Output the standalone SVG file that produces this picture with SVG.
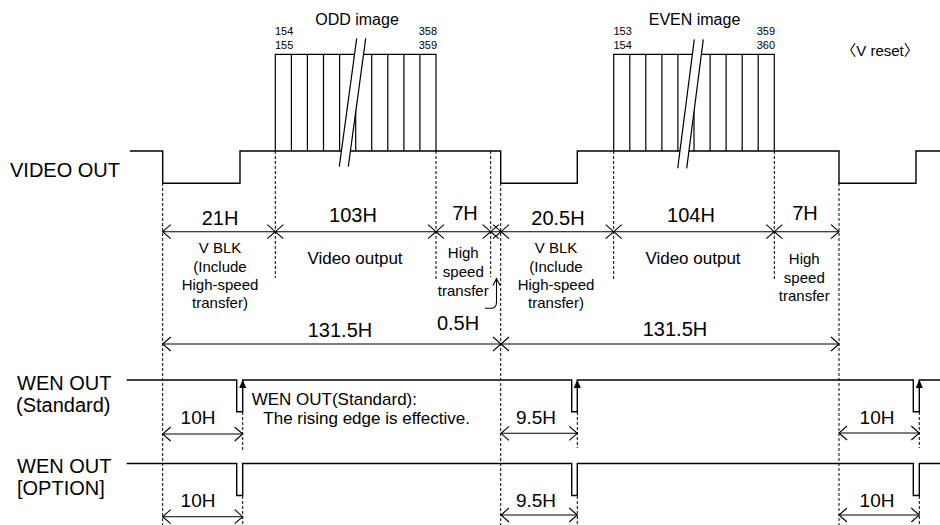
<svg xmlns="http://www.w3.org/2000/svg" xmlns:xlink="http://www.w3.org/1999/xlink" width="940" height="525" viewBox="0 0 940 525">
<defs>
<style>
text{font-family:"Liberation Sans",Arial,"Noto Sans CJK JP",sans-serif;fill:#000}
.sig{fill:none;stroke:#000;stroke-width:1.4}
.blk{fill:none;stroke:#000;stroke-width:1.2}
.dash{fill:none;stroke:#000;stroke-width:1;stroke-dasharray:3,2}
.dim{fill:none;stroke:#000;stroke-width:1.1}
.l20{font-size:20px}
.l19{font-size:19px}
.l17{font-size:17px}
.l16{font-size:16px}
.l15{font-size:15px}
.l11{font-size:11px}
.m{text-anchor:middle}
.e{text-anchor:end}
</style>
<path id="aL" d="M8,-7 L0,0 L8,7" class="dim"/>
<path id="aR" d="M-8,-7 L0,0 L-8,7" class="dim"/>
<path id="aX" d="M8,-7 L0,0 L8,7 M-8,-7 L0,0 L-8,7" class="dim"/>
<path id="tri" d="M-3.5,8 L0,-0.5 L3.5,8 Z" fill="#000"/>
</defs>
<rect width="940" height="525" fill="#fff"/>

<g id="labels">
<text class="l20" x="10" y="177">VIDEO OUT</text>
<text class="l20" x="17" y="390">WEN OUT</text>
<text class="l20" x="16" y="412">(Standard)</text>
<text class="l20" x="17" y="473">WEN OUT</text>
<text class="l20" x="17" y="495">[OPTION]</text>
</g>

<g id="video-out">
<path class="sig" d="M130,151 H162.7 V183.3 H240 V151 H500.7 V183.3 H577.3 V151 H839 V183.3 H916 V151 H940"/>
</g>

<g id="odd-image">
<path class="blk" d="M275.3,151 V54.3 H436 V151 M291.4,54.3 V151 M307.4,54.3 V151 M323.5,54.3 V151 M339.6,54.3 V151 M355.7,54.3 V151 M371.7,54.3 V151 M387.8,54.3 V151 M403.9,54.3 V151 M419.9,54.3 V151"/>
<polygon points="356.7,38.3 365.7,38.3 348.3,166.7 339.3,166.7" fill="#fff"/>
<path class="blk" d="M356.7,38.3 L339.3,166.7 M365.7,38.3 L348.3,166.7"/>
<text class="l16 m" x="357" y="24.5">ODD image</text>
<text class="l11" x="275" y="35">154</text>
<text class="l11" x="275" y="49">155</text>
<text class="l11 e" x="437" y="35">358</text>
<text class="l11 e" x="437" y="49">359</text>
</g>

<g id="even-image">
<path class="blk" d="M613.7,151 V54.3 H774.3 V151 M629.8,54.3 V151 M645.8,54.3 V151 M661.9,54.3 V151 M677.9,54.3 V151 M694,54.3 V151 M710.1,54.3 V151 M726.1,54.3 V151 M742.2,54.3 V151 M758.2,54.3 V151"/>
<polygon points="694.3,39.3 703.3,39.3 686.7,168.3 677.7,168.3" fill="#fff"/>
<path class="blk" d="M694.3,39.3 L677.7,168.3 M703.3,39.3 L686.7,168.3"/>
<text class="l16 m" x="694.5" y="25">EVEN image</text>
<text class="l11" x="613.5" y="35">153</text>
<text class="l11" x="613.5" y="49">154</text>
<text class="l11 e" x="775" y="35">359</text>
<text class="l11 e" x="775" y="49">360</text>
</g>

<g id="v-reset">
<text class="l15 m" x="880" y="56">〈V reset〉</text>
</g>

<g id="wen-standard">
<path class="sig" d="M126.7,380 H236.7 V411.7 H242.7 V380 H571.7 V411.7 H577.3 V380 H913.3 V411.7 H919.3 V380 H940"/>
<use xlink:href="#tri" x="242.7" y="380"/>
<use xlink:href="#tri" x="577.3" y="380"/>
<use xlink:href="#tri" x="919.3" y="380"/>
<text class="l17" x="251.7" y="405">WEN OUT(Standard):</text>
<text class="l17" x="263.3" y="424">The rising edge is effective.</text>
</g>

<g id="wen-option">
<path class="sig" d="M126.7,463.5 H236.7 V495.5 H242.7 V463.5 H571.7 V495.5 H577.3 V463.5 H913.3 V495.5 H919.3 V463.5 H940"/>
</g>

<g id="connectors">
<path class="dash" d="M162.7,183 V525 M275.3,151 V278 M436,151 V280 M490.7,151 V277 M500.7,183 V525 M613.7,151 V279 M774.3,151 V280 M839,183 V525 M242.7,412 V452 M242.7,496 V525 M577.3,412 V448 M577.3,496 V525 M919.3,412 V448 M919.3,496 V525"/>
<path class="dim" d="M162.7,231.7 H839 M162.7,344 H839"/>
<use xlink:href="#aL" x="162.7" y="231.7"/>
<use xlink:href="#aX" x="275.3" y="231.7"/>
<use xlink:href="#aX" x="436" y="231.7"/>
<use xlink:href="#aX" x="490.7" y="231.7"/>
<use xlink:href="#aX" x="501" y="231.7"/>
<use xlink:href="#aX" x="613.7" y="231.7"/>
<use xlink:href="#aX" x="774.3" y="231.7"/>
<use xlink:href="#aR" x="839" y="231.7"/>
<use xlink:href="#aL" x="162.7" y="344"/>
<use xlink:href="#aX" x="501" y="344"/>
<use xlink:href="#aR" x="839" y="344"/>
<path class="dim" d="M485,308.3 H491 Q496.5,308.3 496.5,302 V278.5 M493,285.5 L496.5,278.5 L500,285.5"/>
<path class="dim" d="M162.7,434 H242.7 M501,433.3 H577.3 M839,433 H919.3 M162.7,516.7 H242.7 M501,515 H577.3 M839,515 H919.3"/>
<use xlink:href="#aL" x="162.7" y="434"/>
<use xlink:href="#aR" x="242.7" y="434"/>
<use xlink:href="#aL" x="501" y="433.3"/>
<use xlink:href="#aR" x="577.3" y="433.3"/>
<use xlink:href="#aL" x="839" y="433"/>
<use xlink:href="#aR" x="919.3" y="433"/>
<use xlink:href="#aL" x="162.7" y="516.7"/>
<use xlink:href="#aR" x="242.7" y="516.7"/>
<use xlink:href="#aL" x="501" y="515"/>
<use xlink:href="#aR" x="577.3" y="515"/>
<use xlink:href="#aL" x="839" y="515"/>
<use xlink:href="#aR" x="919.3" y="515"/>
</g>

<g id="dim-labels">
<text class="l20 m" x="220" y="225">21H</text>
<text class="l20 m" x="353" y="222">103H</text>
<text class="l20 m" x="465" y="220">7H</text>
<text class="l20 m" x="558" y="225">20.5H</text>
<text class="l20 m" x="691" y="222">104H</text>
<text class="l20 m" x="805" y="220">7H</text>
<text class="l15 m" x="220" y="253.3">V BLK</text>
<text class="l15 m" x="220" y="271.7">(Include</text>
<text class="l15 m" x="220" y="290">High-speed</text>
<text class="l15 m" x="220" y="308.3">transfer)</text>
<text class="l15 m" x="556" y="253.3">V BLK</text>
<text class="l15 m" x="556" y="272">(Include</text>
<text class="l15 m" x="556" y="290">High-speed</text>
<text class="l15 m" x="556" y="308">transfer)</text>
<text class="l17 m" x="355" y="264">Video output</text>
<text class="l17 m" x="693" y="264">Video output</text>
<text class="l15 m" x="463.3" y="258.3">High</text>
<text class="l15 m" x="463.3" y="277">speed</text>
<text class="l15 m" x="463.3" y="296">transfer</text>
<text class="l15 m" x="804.3" y="264">High</text>
<text class="l15 m" x="804.3" y="283">speed</text>
<text class="l15 m" x="804.3" y="301">transfer</text>
<text class="l20 m" x="340" y="336.7">131.5H</text>
<text class="l20 m" x="458" y="330">0.5H</text>
<text class="l20 m" x="675" y="335.5">131.5H</text>
<text class="l19 m" x="198" y="424">10H</text>
<text class="l19 m" x="536" y="423.5">9.5H</text>
<text class="l19 m" x="877" y="423.5">10H</text>
<text class="l19 m" x="198" y="507">10H</text>
<text class="l19 m" x="536" y="507">9.5H</text>
<text class="l19 m" x="877" y="507">10H</text>
</g>
</svg>
